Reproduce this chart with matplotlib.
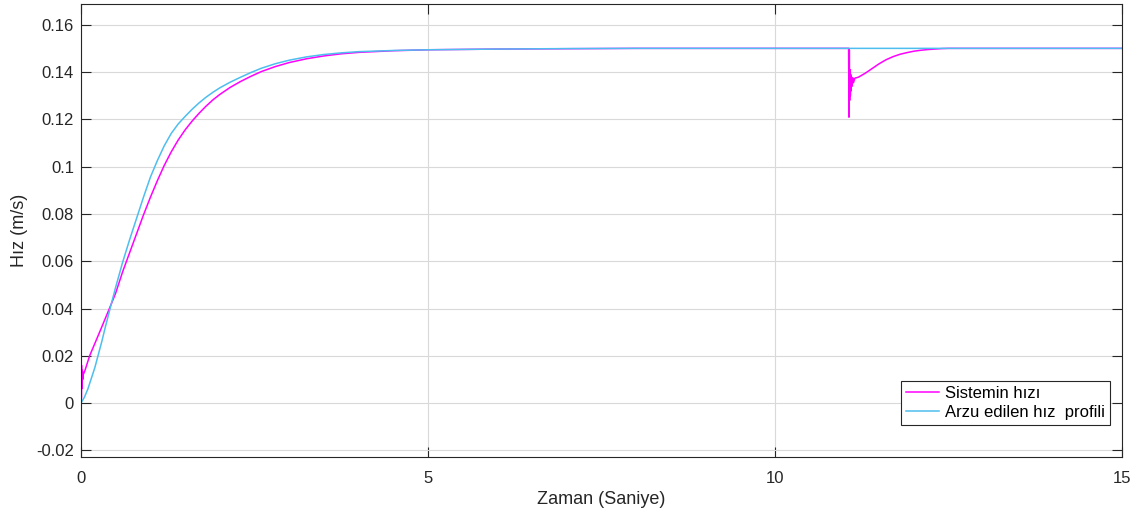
import matplotlib
matplotlib.use('Agg')
import matplotlib.pyplot as plt
import numpy as np

plt.rcParams['font.family'] = ['Liberation Sans', 'DejaVu Sans']

# desired speed profile
t_ref = [0, 0.05, 0.1, 0.15, 0.2, 0.25, 0.3, 0.35, 0.42, 0.5, 0.6, 0.7, 0.8, 0.9,
         1.0, 1.1, 1.2, 1.3, 1.4, 1.5, 1.6, 1.7, 1.8, 1.9, 2.0, 2.15, 2.3, 2.45,
         2.6, 2.8, 3.0, 3.25, 3.5, 3.75, 4.0, 4.5, 5.0, 6.0, 7.0, 8.0, 15.0]
v_ref = [0, 0.0025, 0.006, 0.0105, 0.015, 0.0205, 0.026, 0.032, 0.040, 0.049, 0.0595,
         0.069, 0.078, 0.087, 0.0955, 0.1025, 0.1088, 0.1140, 0.1180, 0.1212, 0.1242,
         0.1269, 0.1293, 0.1314, 0.1333, 0.1357, 0.1378, 0.1398, 0.1416, 0.1435, 0.1450,
         0.1464, 0.1474, 0.1481, 0.1486, 0.1491, 0.1494, 0.1497, 0.1499, 0.15, 0.15]

# system speed, with the ringing at start and the disturbance at ~11 s
t_sys = [0, 0.002, 0.004, 0.006, 0.008, 0.010, 0.014, 0.018, 0.022, 0.026, 0.03, 0.04,
         0.06, 0.125, 0.2, 0.3, 0.41, 0.5, 0.6, 0.7, 0.8, 0.9, 1.0, 1.1, 1.2, 1.3,
         1.4, 1.5, 1.6, 1.7, 1.8, 1.9, 2.0, 2.15, 2.3, 2.45, 2.6, 2.8, 3.0, 3.25,
         3.5, 3.75, 4.0, 4.5, 5.0, 6.0, 8.0,
         11.06, 11.065, 11.07, 11.075, 11.08, 11.085, 11.09, 11.095, 11.10, 11.11,
         11.12, 11.13, 11.15, 11.2, 11.3, 11.4, 11.5, 11.6, 11.7, 11.8, 11.9, 12.0,
         12.1, 12.2, 12.3, 12.4, 12.5, 15.0]
v_sys = [0.026, -0.004, 0.018, 0.002, 0.016, 0.006, 0.014, 0.009, 0.0135, 0.010, 0.012, 0.0125,
         0.014, 0.02, 0.0252, 0.0322, 0.04, 0.0465, 0.0555, 0.0635, 0.0715, 0.0795, 0.0870,
         0.0940, 0.1005, 0.1062, 0.1112, 0.1155, 0.1192, 0.1225, 0.1255, 0.1282, 0.1305,
         0.1335, 0.1360, 0.1382, 0.1402, 0.1423, 0.1440, 0.1456, 0.1468, 0.1477, 0.1483,
         0.1490, 0.1494, 0.1497, 0.15,
         0.15, 0.1209, 0.1494, 0.128, 0.141, 0.130, 0.139, 0.132, 0.138, 0.134,
         0.1375, 0.1355, 0.1374, 0.1378, 0.1395, 0.1415, 0.1435, 0.1452, 0.1465, 0.1475,
         0.1482, 0.1488, 0.1492, 0.1495, 0.1497, 0.1499, 0.15, 0.15]

xticks = [0, 5, 10, 15]
yticks = np.arange(-0.02, 0.161, 0.02)
ytick_labels = ['-0.02', '0', '0.02', '0.04', '0.06', '0.08', '0.1', '0.12', '0.14', '0.16']

fig = plt.figure(figsize=(11.45, 5.17), dpi=100)
ax = fig.add_axes([0.0707, 0.116, 0.9093, 0.876])

ax.plot(t_sys, v_sys, color='#ff00ff', lw=1.1, label='Sistemin hızı')
ax.plot(t_ref, v_ref, color='#4dbeee', lw=1.1, label='Arzu edilen hız  profili')

ax.set_xlim(0, 15)
ax.set_ylim(-0.0228, 0.1687)
ax.set_xticks(xticks)
ax.set_xticklabels([str(x) for x in xticks])
ax.set_yticks(yticks)
ax.set_yticklabels(ytick_labels)

ax.grid(True, color='#d9d9d9', lw=0.8)
ax.set_axisbelow(True)
ax.tick_params(direction='in', length=7, width=0.8, top=True, right=True,
               labelsize=12, colors='#262626')
ax.tick_params(axis='x', pad=10)
ax.tick_params(axis='y', pad=5)
for s in ax.spines.values():
    s.set_color('#262626')
    s.set_linewidth(0.8)

ax.set_xlabel('Zaman (Saniye)', fontsize=13, color='#262626', labelpad=4)
ax.set_ylabel('Hız (m/s)', fontsize=13, color='#262626', labelpad=6)

leg = ax.legend(loc='lower right', bbox_to_anchor=(0.9885, 0.0706), fontsize=12,
                fancybox=False, edgecolor='#262626', framealpha=1,
                handlelength=2.0, handletextpad=0.35, borderpad=0.3,
                labelspacing=0.25, borderaxespad=0)
leg.get_frame().set_linewidth(0.8)

fig.savefig('out.png', dpi=100)
